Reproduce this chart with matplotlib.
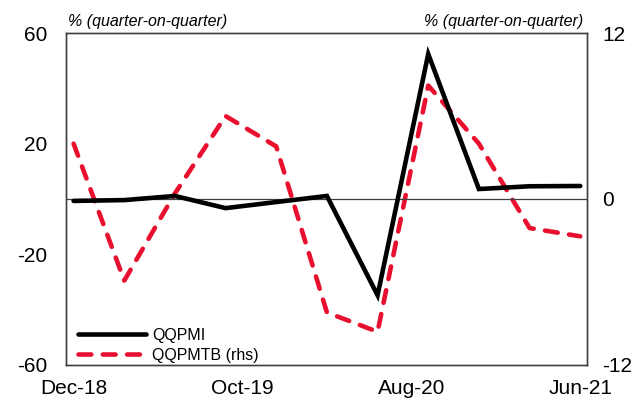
import matplotlib.pyplot as plt
import numpy as np

plt.rcParams['font.family'] = ['Liberation Sans', 'DejaVu Sans']
plt.rcParams['axes.unicode_minus'] = False

quarters = ['Dec-18', 'Mar-19', 'Jun-19', 'Sep-19', 'Dec-19', 'Mar-20',
            'Jun-20', 'Sep-20', 'Dec-20', 'Mar-21', 'Jun-21']
qqpmi = [-0.7, -0.4, 1.1, -3.3, -1.1, 1.1, -34.8, 52.4, 3.6, 4.6, 4.7]
qqpmtb = [4.0, -5.9, 0.4, 6.0, 3.8, -8.2, -9.6, 8.2, 4.0, -2.1, -2.7]
xtick_labels = ['Dec-18', 'Oct-19', 'Aug-20', 'Jun-21']

# months since Dec-18
x = np.arange(len(quarters)) * 3
xtick_pos = [0, 10, 20, 30]

fig = plt.figure(figsize=(6.37, 4.01), dpi=100)
ax = fig.add_axes([0.1036, 0.0898, 0.8179, 0.8279])
ax2 = ax.twinx()

red = '#E8102E'
spine_col = '#404040'

ax.axhline(0, color=spine_col, lw=0.9, zorder=1)
l1, = ax.plot(x, qqpmi, color='black', lw=3.3, solid_capstyle='round',
              solid_joinstyle='miter', zorder=3, label='QQPMI')
l2, = ax2.plot(x, qqpmtb, color=red, lw=3.3, dash_capstyle='round',
               label='QQPMTB (rhs)', zorder=2)
l2.set_dashes([2.8, 2.5])

ax.set_xlim(-0.45, 30.4)
ax.set_ylim(-60, 60)
ax2.set_ylim(-12, 12)
ax.set_yticks([60, 20, -20, -60])
ax2.set_yticks([12, 0, -12])
ax.set_xticks(xtick_pos)
ax.set_xticklabels(xtick_labels)

for a in (ax, ax2):
    a.tick_params(length=0, labelsize=15, colors='black')
    for s in a.spines.values():
        s.set_color(spine_col)
        s.set_linewidth(1.0)
ax.tick_params(axis='y', pad=13.5)
ax2.tick_params(axis='y', pad=11)
ax.tick_params(axis='x', pad=10)

ax.set_zorder(ax2.get_zorder() + 1)
ax.patch.set_visible(False)

fig.text(0.107, 0.947, '% (quarter-on-quarter)', fontsize=11.5,
         style='italic', ha='left', va='center')
fig.text(0.916, 0.947, '% (quarter-on-quarter)', fontsize=11.5,
         style='italic', ha='right', va='center')

leg = ax.legend(handles=[l1, l2], loc='lower left', frameon=False,
                fontsize=11.5, handlelength=4.3, handletextpad=0.35,
                labelspacing=0.3, borderaxespad=0.0,
                bbox_to_anchor=(0.01, -0.012))

fig.savefig('out.png', dpi=100)
